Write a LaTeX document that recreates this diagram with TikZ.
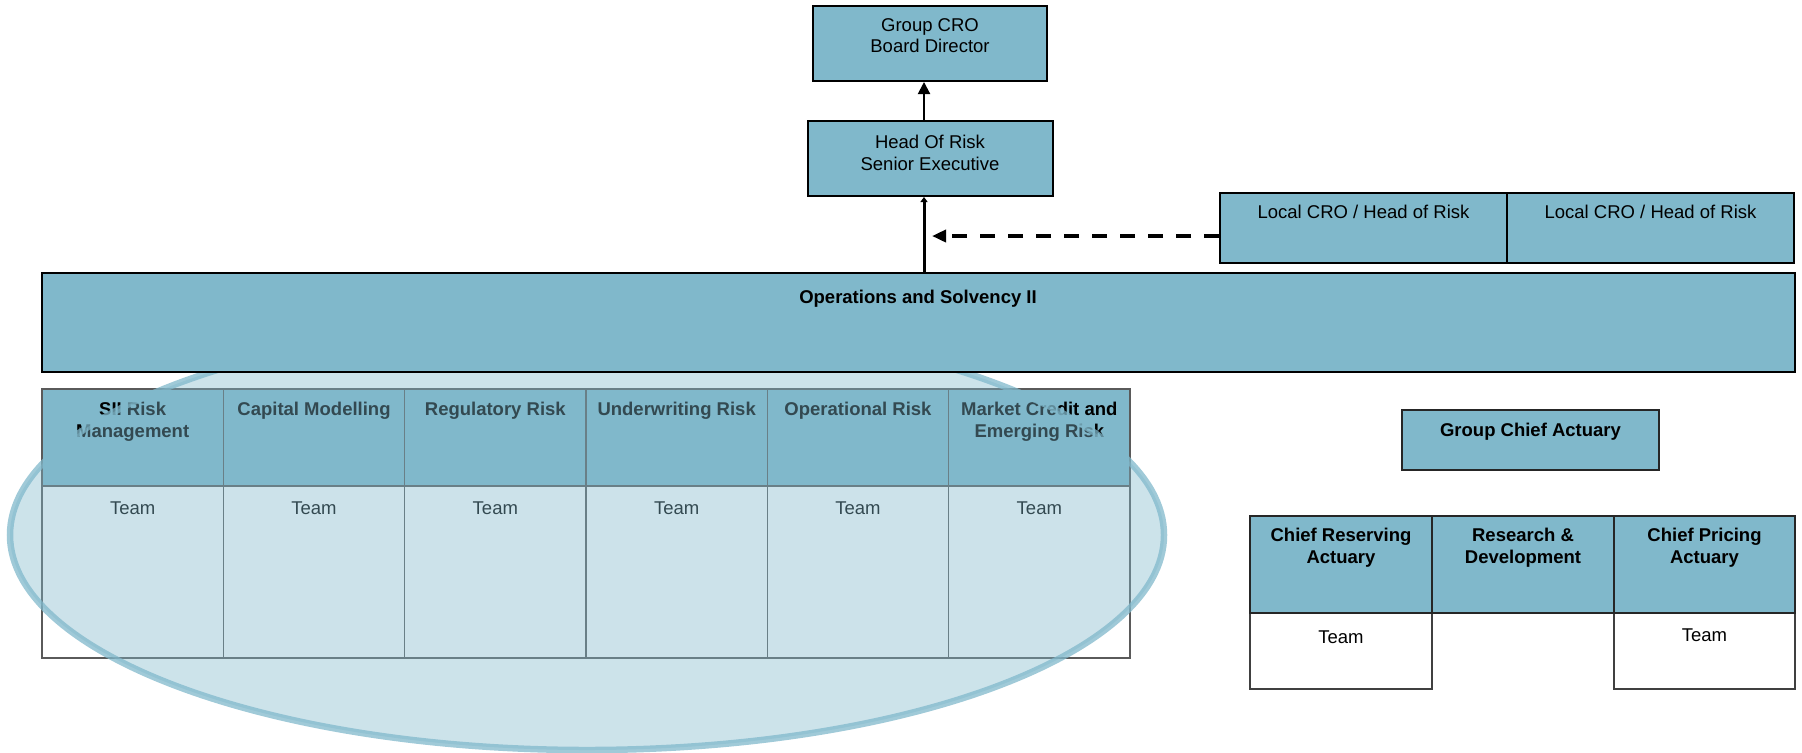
\documentclass[tikz,border=0pt]{standalone}
\usepackage{fontspec}
\setmainfont{Liberation Sans}
\usetikzlibrary{arrows.meta,fit}
\definecolor{boxblue}{HTML}{80B8CB}
\definecolor{gridgray}{HTML}{5A5A5A}
\begin{document}
\begin{tikzpicture}[x=0.5pt,y=-0.5pt,
  font=\fontsize{9.25}{10.75}\selectfont,
  role/.style={draw=black,line width=1pt,fill=boxblue,inner sep=0pt},
  hdrcell/.style={draw=gridgray,line width=0.75pt,fill=boxblue,inner sep=0pt},
  teamcell/.style={draw=gridgray,line width=0.75pt,fill=white,inner sep=0pt},
  actcell/.style={draw=black!85,line width=0.75pt,fill=boxblue,inner sep=0pt},
  actteam/.style={draw=black!75,line width=0.75pt,fill=white,inner sep=0pt},
  lbl/.style={anchor=north,inner sep=0pt,align=center},
  boldlbl/.style={lbl,font=\fontsize{9.25}{10.75}\selectfont\bfseries},
]
\useasboundingbox (0,0) rectangle (1802,752);

% risk function table
\foreach \i/\txt in {1/{SII Risk\\Management},2/{Capital Modelling},3/{Regulatory Risk},
                     4/{Underwriting Risk},5/{Operational Risk},6/{Market Credit and\\Emerging Risk}}{
  \pgfmathsetmacro{\xl}{42+(\i-1)*181.33}
  \pgfmathsetmacro{\xr}{42+\i*181.33}
  \pgfmathsetmacro{\xc}{42+(\i-0.5)*181.33}
  \node[teamcell,fit={(\xl,486) (\xr,658)}] (team\i) {};
  \node[hdrcell,fit={(\xl,389) (\xr,486)}] (unit\i) {};
  \node[boldlbl] (unitlbl\i) at (\xc,402) {\txt};
  \node[lbl] (teamlbl\i) at (\xc,501) {Team};
}

% highlight ring over the risk teams
\path[fill=boxblue,fill opacity=0.4,draw=boxblue,draw opacity=0.75,line width=3.25pt]
  (587,535) ellipse [x radius=577, y radius=215];

% operations block
\node[role,fit={(42,273) (1795,372)}] (ops) {};
\node[boldlbl] (opslbl) at (918,290) {Operations and Solvency II};

% reporting line
\node[role,fit={(813,6) (1047,81)}] (gcro) {};
\node[lbl] (gcrolbl) at (930,18) {Group CRO\\Board Director};
\node[role,fit={(808,121) (1053,196)}] (hor) {};
\node[lbl] (horlbl) at (930,135) {Head Of Risk\\Senior Executive};
\coordinate (spine) at (924,0);
\draw[line width=1pt,-{Triangle[length=6pt,width=6pt]}] (hor.north -| spine) -- (gcro.south -| spine);
\draw[line width=1.5pt,-{Triangle[length=2.5pt,width=3.5pt]}] (ops.north -| spine) -- (hor.south -| spine);

% local risk heads
\node[role,fit={(1220,193) (1507,263)}] (lcroA) {};
\node[role,fit={(1507,193) (1794,263)}] (lcroB) {};
\node[lbl] (lcroAlbl) at (1363.5,205) {Local CRO / Head of Risk};
\node[lbl] (lcroBlbl) at (1650.5,205) {Local CRO / Head of Risk};
\coordinate (dashend) at (932,236);
\draw[line width=2pt,dash pattern=on 7.5pt off 6.5pt,-{Triangle[length=7pt,width=6pt]}]
  (dashend -| lcroA.west) -- (dashend);

% actuarial function
\node[actcell,fit={(1402,410) (1659,470)}] (gca) {};
\node[boldlbl] (gcalbl) at (1530.5,423) {Group Chief Actuary};
\node[actteam,fit={(1250,613) (1432,689)}] (resteam) {};
\node[actteam,fit={(1614,613) (1795,689)}] (prcteam) {};
\node[actcell,fit={(1250,516) (1432,613)}] (res) {};
\node[actcell,fit={(1432,516) (1614,613)}] (rnd) {};
\node[actcell,fit={(1614,516) (1795,613)}] (prc) {};
\node[boldlbl] (reslbl) at (1341,528) {Chief Reserving\\Actuary};
\node[boldlbl] (rndlbl) at (1523,528) {Research \&\\Development};
\node[boldlbl] (prclbl) at (1704.5,528) {Chief Pricing\\Actuary};
\node[lbl] (resteamlbl) at (1341,630) {Team};
\node[lbl] (prcteamlbl) at (1704.5,628) {Team};
\end{tikzpicture}
\end{document}
